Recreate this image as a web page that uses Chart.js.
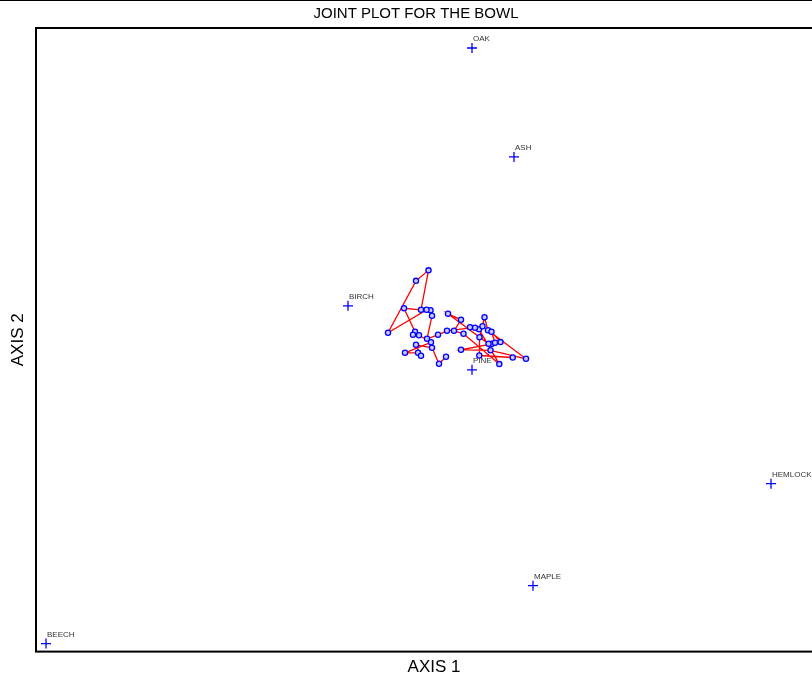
<!DOCTYPE html>
<html>
<head>
<meta charset="utf-8">
<title>Joint plot for the bowl</title>
<script src="https://cdn.jsdelivr.net/npm/chart.js@4.4.1/dist/chart.umd.min.js"></script>
<style>
  html, body { margin: 0; padding: 0; background: #fff; overflow: hidden; }
  /* canvas is wider than the window so the right side of the frame falls off the page */
  #plot { display: block; }
</style>
</head>
<body>
<canvas id="plot" width="868" height="684"></canvas>
<script>
// Species scores (axis 1 / axis 2)
const speciesNames = ['OAK', 'ASH', 'BIRCH', 'PINE', 'HEMLOCK', 'MAPLE', 'BEECH'];
const speciesAxis1 = [436, 478, 312, 436, 735, 497, 10];
const speciesAxis2 = [604, 495, 346, 282, 168, 66, 8];

// Sample scores, in the order they are joined by the trajectory line
const sampleAxis1 = [476.7, 443.3, 443.5, 448.5, 452, 490, 454.5, 425, 456, 459, 455.5, 464.5, 452.5,
  412, 425, 418, 427.5, 463.3, 443, 439, 434, 446.5, 411, 402, 391, 396, 394.5, 390.5, 352, 380,
  392.5, 385, 368, 379, 377, 383, 395, 369, 382, 385, 380, 396, 403, 410];
const sampleAxis2 = [294.3, 296.3, 314.5, 334.5, 321.5, 293, 301.5, 302, 308, 309, 320, 309.7, 308,
  338, 332, 321, 318, 287.7, 322.5, 324, 324.5, 325.5, 321, 317, 313, 336, 341.5, 342, 319, 371,
  381.5, 342, 343.5, 320, 317, 316.5, 309.5, 299, 299, 296, 307, 304, 288, 295];

const axis1Range = [0, 796];
const axis2Range = [0, 624];

function toPoints(xs, ys) {
  return xs.map((x, i) => ({ x: x, y: ys[i] }));
}

// Frame round the plot area, plus the rule along the top of the page
const framePlugin = {
  id: 'frame',
  afterDatasetsDraw(chart) {
    const { ctx, chartArea } = chart;
    ctx.save();
    ctx.strokeStyle = '#000';
    ctx.lineWidth = 2;
    ctx.strokeRect(chartArea.left, chartArea.top, chartArea.right - chartArea.left, chartArea.bottom - chartArea.top);
    ctx.lineWidth = 1;
    ctx.beginPath();
    ctx.moveTo(0, 0.5);
    ctx.lineTo(chart.width, 0.5);
    ctx.stroke();
    ctx.restore();
  }
};

// Species names written just above their crosses
const speciesLabels = {
  id: 'speciesLabels',
  afterDatasetsDraw(chart) {
    const { ctx } = chart;
    const meta = chart.getDatasetMeta(1);
    ctx.save();
    ctx.font = '8px "Liberation Sans", Arial, sans-serif';
    ctx.fillStyle = '#333';
    ctx.textAlign = 'left';
    ctx.textBaseline = 'middle';
    meta.data.forEach((pt, i) => {
      ctx.fillText(speciesNames[i], pt.x + 1, pt.y - 9);
    });
    ctx.restore();
  }
};

new Chart(document.getElementById('plot'), {
  type: 'scatter',
  data: {
    datasets: [{
      label: 'Samples',
      data: toPoints(sampleAxis1, sampleAxis2),
      showLine: true,
      borderColor: '#ff0000',
      borderWidth: 1.3,
      pointStyle: 'circle',
      pointRadius: 2.6,
      pointBorderWidth: 1.3,
      pointBorderColor: '#0000ff',
      pointBackgroundColor: '#c8c8ff'
    }, {
      label: 'Species',
      data: toPoints(speciesAxis1, speciesAxis2),
      showLine: false,
      pointStyle: 'cross',
      pointRadius: 5,
      pointBorderWidth: 1.3,
      pointBorderColor: '#0000ff'
    }]
  },
  options: {
    responsive: false,
    animation: false,
    layout: { padding: { left: 0, right: 36, top: 0, bottom: 0 } },
    scales: {
      x: {
        type: 'linear',
        min: axis1Range[0],
        max: axis1Range[1],
        ticks: { display: false },
        grid: { display: false, drawTicks: false },
        border: { display: false },
        title: {
          display: true,
          text: 'AXIS 1',
          color: '#000',
          font: { family: '"Liberation Sans", Arial, sans-serif', size: 17 },
          padding: { top: 6, bottom: 6 }
        }
      },
      y: {
        type: 'linear',
        min: axis2Range[0],
        max: axis2Range[1],
        ticks: { display: false },
        grid: { display: false, drawTicks: false },
        border: { display: false },
        title: {
          display: true,
          text: 'AXIS 2',
          color: '#000',
          font: { family: '"Liberation Sans", Arial, sans-serif', size: 17 },
          padding: { top: 8, bottom: 7.6 }
        }
      }
    },
    plugins: {
      legend: { display: false },
      tooltip: { enabled: false },
      title: {
        display: true,
        text: 'JOINT PLOT FOR THE BOWL',
        color: '#000',
        font: { family: '"Liberation Sans", Arial, sans-serif', size: 15, weight: 'normal' },
        padding: { top: 5, bottom: 5 }
      }
    }
  },
  plugins: [framePlugin, speciesLabels]
});
</script>
</body>
</html>
